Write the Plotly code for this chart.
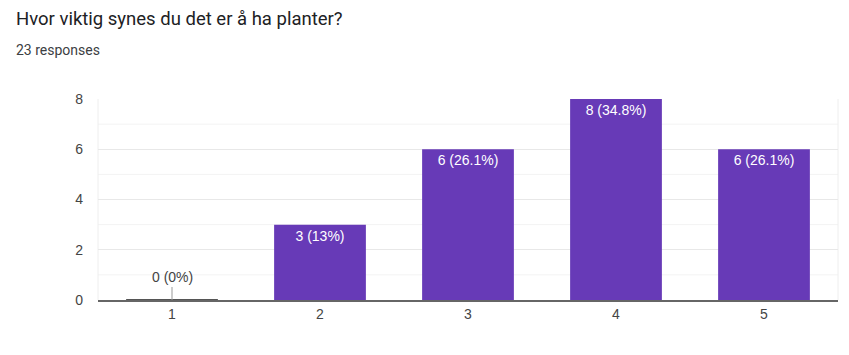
import plotly.graph_objects as go

categories = ["1", "2", "3", "4", "5"]
counts = [0, 3, 6, 8, 6]
labels = ["0 (0%)", "3 (13%)", "6 (26.1%)", "8 (34.8%)", "6 (26.1%)"]
y_ticks = [0, 2, 4, 6, 8]
minor_ticks = [1, 3, 5, 7]
title_text = "Hvor viktig synes du det er å ha planter?"
subtitle_text = "23 responses"

TFONT = "Roboto, Arial, sans-serif"
CFONT = "Arial, 'Liberation Sans', sans-serif"
PURPLE = "#673ab7"

inside_text = [l if v > 0 else "" for v, l in zip(counts, labels)]

fig = go.Figure()
fig.add_trace(go.Bar(
    x=categories, y=counts, width=0.62,
    marker=dict(color=PURPLE, line=dict(width=0)),
    text=inside_text, textposition="inside", insidetextanchor="end",
    textfont=dict(color="white", size=14, family=CFONT),
    textangle=0, cliponaxis=False, hoverinfo="skip",
))

for m in minor_ticks:
    fig.add_hline(y=m, line=dict(color="#f3f3f3", width=1), layer="below")

annotations = [
    dict(text=title_text, xref="paper", yref="paper", x=0, y=1, xshift=-84, yshift=80,
         xanchor="left", yanchor="middle", showarrow=False,
         font=dict(size=18.5, color="#202124", family=TFONT)),
    dict(text=subtitle_text, xref="paper", yref="paper", x=0, y=1, xshift=-84, yshift=49,
         xanchor="left", yanchor="middle", showarrow=False,
         font=dict(size=14, color="#3c4043", family=TFONT)),
]

# zero-value bars: thin baseline mark and callout label
for i, (v, l) in enumerate(zip(counts, labels)):
    if v == 0:
        fig.add_shape(type="line", xref="x", yref="y",
                      x0=i - 0.31, x1=i + 0.31, y0=v, y1=v,
                      line=dict(color="#555555", width=2))
        annotations.append(dict(x=i, y=v, xref="x", yref="y", text=l, showarrow=True,
                                arrowhead=0, arrowwidth=1, arrowcolor="#999999",
                                ax=0, ay=-13, yanchor="bottom",
                                font=dict(size=14, color="#444444", family=CFONT)))

fig.update_layout(
    width=841, height=347,
    margin=dict(l=90, r=11, t=91, b=55, autoexpand=False),
    paper_bgcolor="white", plot_bgcolor="white",
    showlegend=False,
    xaxis=dict(showgrid=False, showline=True, linecolor="#666666", linewidth=1.5,
               tickfont=dict(size=14, color="#444444", family=CFONT),
               ticks="", range=[-0.5, 4.5], fixedrange=True, automargin=False),
    yaxis=dict(range=[0, 8], tickvals=y_ticks, showgrid=True, gridcolor="#e8e8e8",
               zeroline=False, showline=False,
               tickfont=dict(size=14, color="#444444", family=CFONT),
               ticks="", ticklabelstandoff=14, fixedrange=True, automargin=False),
    annotations=annotations,
)

# faint frame at right and left of plot area
fig.add_shape(type="line", xref="paper", yref="paper", x0=1, x1=1, y0=0, y1=1,
              line=dict(color="#eeeeee", width=1), layer="below")
fig.add_shape(type="line", xref="paper", yref="paper", x0=0, x1=0, y0=0, y1=1,
              line=dict(color="#eeeeee", width=1), layer="below")

fig.write_html("out.html")
